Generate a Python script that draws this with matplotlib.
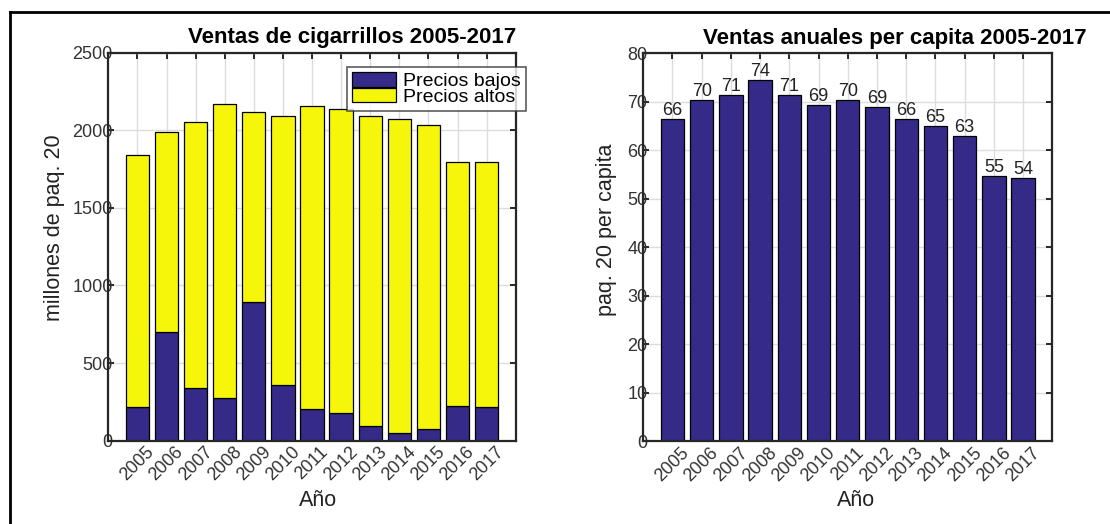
import numpy as np
import matplotlib.pyplot as plt
from matplotlib.lines import Line2D

plt.rcParams['font.family'] = ['Liberation Sans', 'DejaVu Sans']

# datos de ventas por año
anios = ['2005', '2006', '2007', '2008', '2009', '2010', '2011',
         '2012', '2013', '2014', '2015', '2016', '2017']
ventas_total = [1843, 1989, 2053, 2167, 2120, 2092, 2158,
                2137, 2092, 2072, 2034, 1794, 1798]
precios_bajos = [215, 702, 339, 273, 893, 358, 204,
                 180, 97, 47, 73, 225, 219]
precios_altos = [t - b for t, b in zip(ventas_total, precios_bajos)]
per_capita = [66.4, 70.4, 71.4, 74.4, 71.4, 69.3, 70.4,
              69.0, 66.4, 65.1, 62.9, 54.8, 54.3]

AZUL = '#352A87'
AMARILLO = '#F6F60B'
GRIS = '#262626'


def estilo_ejes(ax, ymax, ystep):
    """Caja completa, marcas hacia adentro y grilla gris"""
    x = np.arange(1, len(anios) + 1)
    ax.set_xlim(0, 14)
    ax.set_ylim(0, ymax)
    ax.set_xticks(x)
    ax.set_xticklabels(anios, rotation=45, ha='center', va='top')
    ax.set_yticks(np.arange(0, ymax + 1, ystep))
    ax.tick_params(direction='in', length=4, width=1.4, top=True, right=True,
                   labelsize=13, colors=GRIS, labelcolor='#333333')
    ax.tick_params(axis='y', pad=-3)
    ax.tick_params(axis='x', pad=2)
    ax.grid(True, color='#DCDCDC', linewidth=1)
    ax.set_axisbelow(True)
    for s in ax.spines.values():
        s.set_linewidth(1.6)
        s.set_color(GRIS)


fig = plt.figure(figsize=(11.1, 5.24), dpi=100)

# marco de la figura
fig.add_artist(Line2D([10 / 1110, 10 / 1110], [0, 1 - 12 / 524],
                      transform=fig.transFigure, color='black', lw=2))
fig.add_artist(Line2D([10 / 1110, 1], [1 - 12 / 524, 1 - 12 / 524],
                      transform=fig.transFigure, color='black', lw=2))

x = np.arange(1, len(anios) + 1)

# ventas totales apiladas
ax1 = fig.add_axes([0.0976, 0.159, 0.367, 0.7405])
ax1.bar(x, precios_bajos, width=0.8, color=AZUL, edgecolor='black',
        linewidth=0.9, label='Precios bajos')
ax1.bar(x, precios_altos, width=0.8, bottom=precios_bajos, color=AMARILLO,
        edgecolor='black', linewidth=0.9, label='Precios altos')
estilo_ejes(ax1, 2500, 500)
ax1.text(0.598, 1.038, 'Ventas de cigarrillos 2005-2017', transform=ax1.transAxes,
         ha='center', va='center', fontsize=16, fontweight='bold')
ax1.set_ylabel('millones de paq. 20', fontsize=15.5, color='#222222')
ax1.yaxis.label.set_va('center')
ax1.yaxis.set_label_coords(-0.131, 0.548)
ax1.set_xlabel('Año', fontsize=15.5, color='#222222')
ax1.xaxis.label.set_va('center')
ax1.xaxis.set_label_coords(0.515, -0.153)
leg = ax1.legend(loc='upper left', bbox_to_anchor=(0.585, 0.962), fontsize=14,
                 frameon=True, fancybox=False, borderaxespad=0, borderpad=0.25,
                 handlelength=2.3, handleheight=0.75, handletextpad=0.35,
                 labelspacing=-0.1)
leg.get_frame().set_edgecolor('#333333')
leg.get_frame().set_linewidth(1.2)

# ventas per capita
ax2 = fig.add_axes([0.5795, 0.1578, 0.3685, 0.7405])
barras = ax2.bar(x, per_capita, width=0.8, color=AZUL, edgecolor='black',
                 linewidth=0.9)
ax2.bar_label(barras, fmt='%.0f', padding=0, fontsize=13, color='#222222')
estilo_ejes(ax2, 80, 10)
ax2.text(0.616, 1.038, 'Ventas anuales per capita 2005-2017', transform=ax2.transAxes,
         ha='center', va='center', fontsize=16, fontweight='bold')
ax2.set_ylabel('paq. 20 per capita', fontsize=15.5, color='#222222')
ax2.yaxis.label.set_va('center')
ax2.yaxis.set_label_coords(-0.091, 0.545)
ax2.set_xlabel('Año', fontsize=15.5, color='#222222')
ax2.xaxis.label.set_va('center')
ax2.xaxis.set_label_coords(0.52, -0.153)

fig.savefig('out.png', dpi=100)
